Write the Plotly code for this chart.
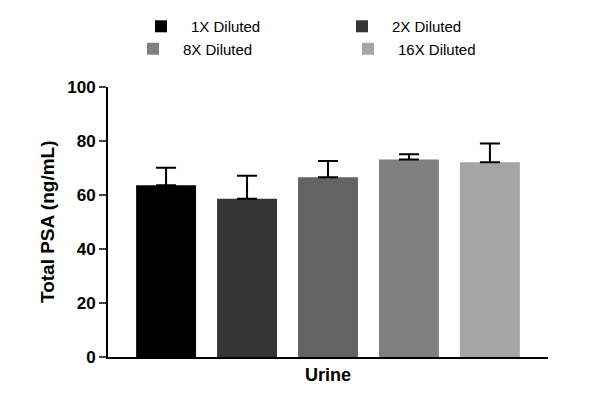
import plotly.graph_objects as go

groups = ["1X Diluted", "2X Diluted", "4X Diluted", "8X Diluted", "16X Diluted"]
values = [63.5, 58.5, 66.5, 73, 72]
errors = [6.5, 8.5, 6, 2, 7]
colors = ["#000000", "#343434", "#636363", "#808080", "#a5a5a5"]
category = ["Urine"]

fig = go.Figure()
for i, (g, v, e, c) in enumerate(zip(groups, values, errors, colors)):
    fig.add_trace(go.Bar(
        x=category, y=[v], name=g, marker_color=c, marker_line_width=0,
        offsetgroup=str(i),
        error_y=dict(type="data", array=[e], arrayminus=[0], symmetric=False,
                     color="black", thickness=2, width=10),
        legend="legend" if i < 3 else "legend2",
    ))

font = dict(family="Arial, Liberation Sans", size=15, color="black")
fig.update_layout(
    width=600, height=409, plot_bgcolor="white", paper_bgcolor="white",
    margin=dict(l=100, r=60, t=62, b=60),
    barmode="group", bargap=0.08, bargroupgap=0.26,
    font=font,
    legend=dict(orientation="h", x=0.54, xanchor="center", xref="container",
                y=0.995, yanchor="top", yref="container",
                font=dict(size=15), entrywidth=136, itemwidth=50),
    legend2=dict(orientation="h", x=0.55, xanchor="center", xref="container",
                 y=0.94, yanchor="top", yref="container",
                 font=dict(size=15), entrywidth=150, itemwidth=50),
    xaxis=dict(showline=True, linecolor="black", linewidth=2, ticks="",
               tickfont=dict(size=18, family="Arial, Liberation Sans", weight="bold")),
    yaxis=dict(range=[0, 100], tickvals=[0, 20, 40, 60, 80, 100], showline=True,
               linecolor="black", linewidth=2, ticks="outside", tickwidth=2, ticklen=7,
               showgrid=False, zeroline=False,
               tickfont=dict(size=17, weight="bold"),
               title=dict(text="Total PSA (ng/mL)", font=dict(size=19, weight="bold"), standoff=8)),
)
fig.write_html("out.html")
